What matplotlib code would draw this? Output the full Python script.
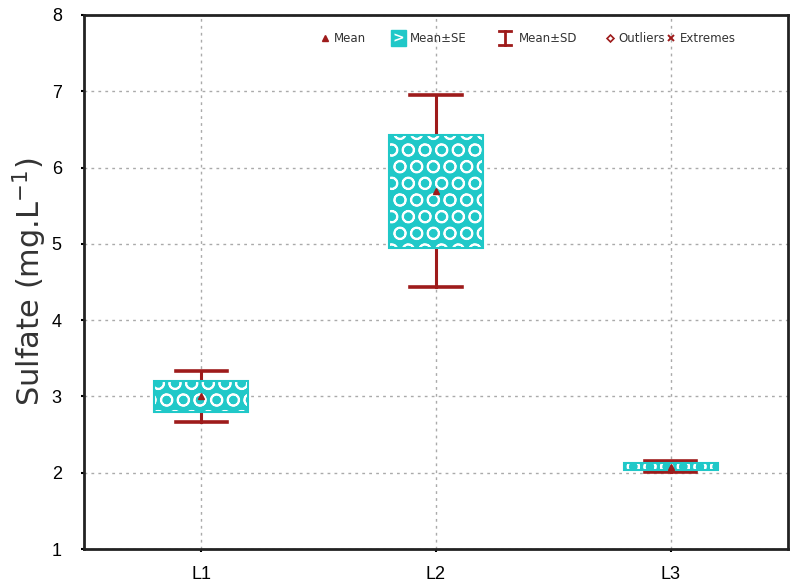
import matplotlib
matplotlib.use("Agg")
import matplotlib.pyplot as plt
from matplotlib.patches import Rectangle
import numpy as np

plt.rcParams['font.family'] = ['Liberation Sans', 'DejaVu Sans']
plt.rcParams['mathtext.fontset'] = 'dejavusans'
plt.rcParams['hatch.linewidth'] = 1.3

categories = ["L1", "L2", "L3"]
means = [3.00, 5.69, 2.08]
se = [0.20, 0.74, 0.05]
sd = [0.33, 1.26, 0.07]
yticks = [1, 2, 3, 4, 5, 6, 7, 8]
legend_labels = ['Mean', 'Mean±SE', 'Mean±SD', 'Outliers', 'Extremes']

cyan = '#20C8C8'
dred = '#9E1B1B'

fig = plt.figure(figsize=(7.97, 5.85), dpi=100)
ax = fig.add_axes([0.1054, 0.0615, 0.8833, 0.9129])

x = np.arange(1, len(categories) + 1)
box_w = 0.40
cap_w = 0.22

for xi, m, s_e, s_d in zip(x, means, se, sd):
    ax.plot([xi, xi], [m - s_d, m + s_d], color=dred, lw=2.2, zorder=2)
    for yv in (m - s_d, m + s_d):
        ax.plot([xi - cap_w / 2, xi + cap_w / 2], [yv, yv], color=dred, lw=2.6, zorder=2)
    ax.add_patch(Rectangle((xi - box_w / 2, m - s_e), box_w, 2 * s_e,
                           facecolor=cyan, edgecolor=cyan, lw=0, zorder=3))
    ax.add_patch(Rectangle((xi - box_w / 2, m - s_e), box_w, 2 * s_e,
                           facecolor='none', edgecolor='white', hatch='O', lw=0, zorder=4))
    ax.add_patch(Rectangle((xi - box_w / 2, m - s_e), box_w, 2 * s_e,
                           facecolor='none', edgecolor=cyan, lw=1.5, zorder=5))
    ax.plot([xi], [m], marker='^', color=dred, ms=5, ls='none', zorder=6)

ax.set_xlim(0.5, 3.5)
ax.set_ylim(1, 8)
ax.set_xticks(x)
ax.set_xticklabels(categories)
ax.set_yticks(yticks)
ax.tick_params(axis='both', length=2, width=1.5, labelsize=13, colors='black')
ax.tick_params(axis='x', pad=10)
ax.tick_params(axis='y', pad=14)
for sp in ax.spines.values():
    sp.set_linewidth(2)
    sp.set_color('#222222')
ax.grid(True, color='#aaaaaa', linestyle=(0, (2, 3)), lw=1.0, zorder=0)
ax.set_axisbelow(True)

ax.set_ylabel('Sulfate (mg.L$^{\\mathregular{-1}}$)', fontsize=22, color='#333333',
              labelpad=2, family='DejaVu Sans')

# manual legend row along the top (figure pixel coords -> fractions)
W, H = 797.0, 585.0
ly = 1 - 38 / H
fs = 8.5
tcol = '#333333'
# Mean
fig.lines.append(plt.Line2D([325 / W], [ly], marker='^', color=dred, ms=4.5, ls='none',
                            transform=fig.transFigure))
fig.text(334 / W, ly, legend_labels[0], fontsize=fs, va='center', ha='left', color=tcol,
         family='DejaVu Sans')
# Mean±SE
fig.patches.append(Rectangle((391 / W, ly - 8 / H), 15 / W, 16 / H, facecolor=cyan,
                             edgecolor=cyan, transform=fig.transFigure, figure=fig))
fig.text(398.5 / W, ly, '>', fontsize=10, va='center', ha='center', color='white',
         weight='bold', family='DejaVu Sans')
fig.text(410 / W, ly, legend_labels[1], fontsize=fs, va='center', ha='left', color=tcol,
         family='DejaVu Sans')
# Mean±SD
fig.lines.append(plt.Line2D([505 / W, 505 / W], [ly - 7 / H, ly + 7 / H], color=dred, lw=2,
                            transform=fig.transFigure))
fig.lines.append(plt.Line2D([499 / W, 511 / W], [ly + 7 / H, ly + 7 / H], color=dred, lw=2,
                            transform=fig.transFigure))
fig.lines.append(plt.Line2D([499 / W, 511 / W], [ly - 7 / H, ly - 7 / H], color=dred, lw=2,
                            transform=fig.transFigure))
fig.text(519 / W, ly, legend_labels[2], fontsize=fs, va='center', ha='left', color=tcol,
         family='DejaVu Sans')
# Outliers
fig.lines.append(plt.Line2D([610 / W], [ly], marker='D', markerfacecolor='none',
                            markeredgecolor=dred, ms=3.5, ls='none', mew=1.2,
                            transform=fig.transFigure))
fig.text(618 / W, ly, legend_labels[3], fontsize=fs, va='center', ha='left', color=tcol,
         family='DejaVu Sans')
# Extremes
fig.lines.append(plt.Line2D([671 / W], [ly], marker='x', color=dred, ms=5, ls='none', mew=1.4,
                            transform=fig.transFigure))
fig.text(680 / W, ly, legend_labels[4], fontsize=fs, va='center', ha='left', color=tcol,
         family='DejaVu Sans')

fig.savefig('out.png', dpi=100)
